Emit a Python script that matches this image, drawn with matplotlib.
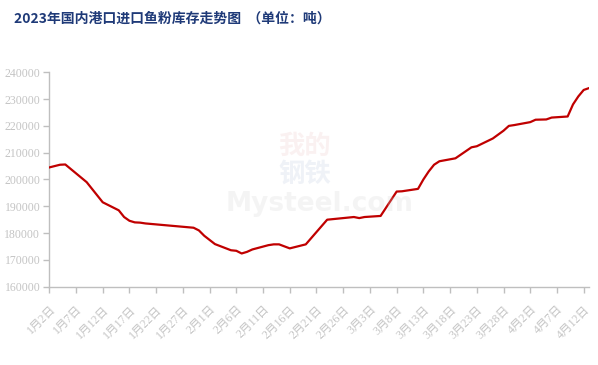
import numpy as np
import matplotlib
matplotlib.use("Agg")
import matplotlib.pyplot as plt

# ---- data ----
dates = ["2023-01-02", "2023-01-04", "2023-01-05", "2023-01-09", "2023-01-12",
         "2023-01-15", "2023-01-16", "2023-01-17", "2023-01-18", "2023-01-19",
         "2023-01-20", "2023-01-29", "2023-01-30", "2023-01-31", "2023-02-02",
         "2023-02-05", "2023-02-06", "2023-02-07", "2023-02-08", "2023-02-09",
         "2023-02-12", "2023-02-13", "2023-02-14", "2023-02-16", "2023-02-19",
         "2023-02-23", "2023-02-25", "2023-02-27", "2023-02-28", "2023-03-01",
         "2023-03-02", "2023-03-05", "2023-03-08", "2023-03-09", "2023-03-12",
         "2023-03-13", "2023-03-14", "2023-03-15", "2023-03-16", "2023-03-19",
         "2023-03-22", "2023-03-23", "2023-03-26", "2023-03-28", "2023-03-29",
         "2023-03-30", "2023-04-02", "2023-04-03", "2023-04-05", "2023-04-06",
         "2023-04-09", "2023-04-10", "2023-04-11", "2023-04-12", "2023-04-13"]
stock = [204500, 205500, 205600, 199000, 191500,
         188500, 186000, 184600, 184000, 183900,
         183600, 182000, 181000, 179000, 175900,
         173600, 173400, 172400, 173000, 173900,
         175500, 175800, 175800, 174300, 175800,
         185000, 185400, 185800, 186000, 185600,
         186000, 186400, 195500, 195600, 196500,
         200000, 203000, 205500, 206800, 207900,
         212000, 212400, 215300, 218200, 220000,
         220300, 221400, 222300, 222400, 223100,
         223500, 228000, 231000, 233400, 234100]
tick_labels = ["1月2日", "1月7日", "1月12日", "1月17日", "1月22日", "1月27日",
               "2月1日", "2月6日", "2月11日", "2月16日", "2月21日", "2月26日",
               "3月3日", "3月8日", "3月13日", "3月18日", "3月23日", "3月28日",
               "4月2日", "4月7日", "4月12日"]
y_ticks = [160000, 170000, 180000, 190000, 200000, 210000, 220000, 230000, 240000]
title = "2023年国内港口进口鱼粉库存走势图  （单位：吨）"

# ---- layout ----
start = np.datetime64("2023-01-02")
x = (np.array(dates, dtype="datetime64[D]") - start).astype(int)
tick_pos = np.arange(len(tick_labels)) * 5

fig = plt.figure(figsize=(5.98, 3.65), dpi=100)
ax = fig.add_axes([0.0824, 0.2145, 0.9026, 0.5875])

grey = "#BFBFBF"
label_grey = "#C4C4C4"

# faint watermark
fig.text(0.51, 0.600, "我的", fontsize=19, family=["Noto Sans CJK SC"],
         color="#E8B4B4", alpha=0.18, ha="center", va="center", fontweight="bold")
fig.text(0.51, 0.522, "钢铁", fontsize=19, family=["Noto Sans CJK SC"],
         color="#A9B8D6", alpha=0.18, ha="center", va="center", fontweight="bold")
fig.text(0.535, 0.440, "Mysteel.com", fontsize=19, family=["DejaVu Sans"],
         color="#D0D0D0", alpha=0.22, ha="center", va="center", fontweight="bold")

ax.plot(x, stock, color="#C00000", lw=1.6, solid_joinstyle="round", zorder=3)

ax.set_xlim(0, 101)
ax.set_ylim(160000, 240000)
ax.set_yticks(y_ticks)
ax.set_yticklabels([str(v) for v in y_ticks], family=["Liberation Serif"],
                   fontsize=8.5, color=label_grey)
ax.set_xticks(tick_pos)
ax.set_xticklabels(tick_labels, rotation=45, ha="right", va="top",
                   rotation_mode="anchor",
                   family=["Liberation Serif", "Noto Sans CJK SC"],
                   fontsize=8.5, color=label_grey)

for s in ["top", "right"]:
    ax.spines[s].set_visible(False)
for s in ["left", "bottom"]:
    ax.spines[s].set_color(grey)
    ax.spines[s].set_linewidth(1.0)
ax.tick_params(axis="both", direction="out", length=4, width=1.0, color=grey)
ax.tick_params(axis="y", pad=2.5)
ax.tick_params(axis="x", pad=8)
ax.set_facecolor("none")

fig.text(0.023, 0.948, title, fontsize=10, fontweight="bold", color="#1F3A78",
         family=["Noto Sans CJK SC"], ha="left", va="center")

fig.savefig("out.png", dpi=100)
